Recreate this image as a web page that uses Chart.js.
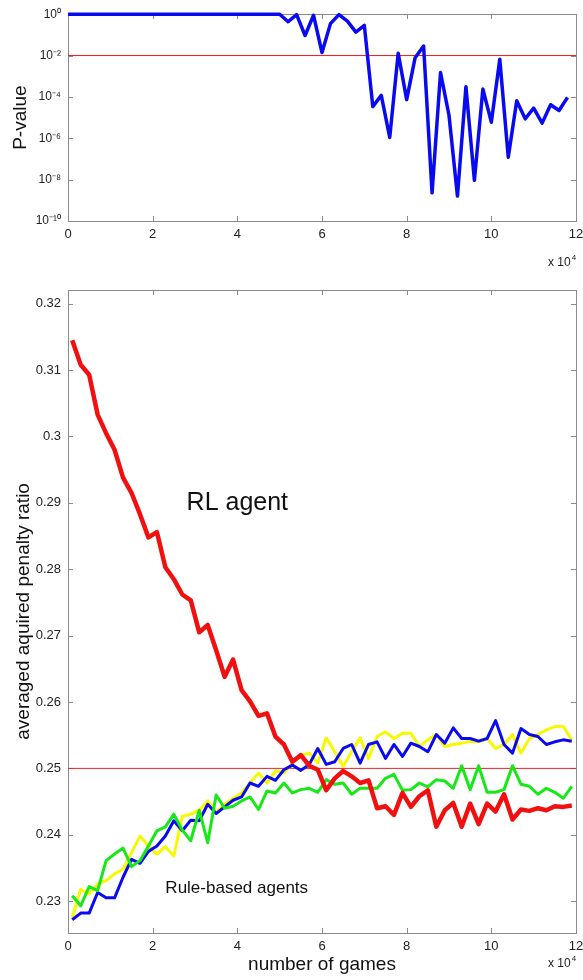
<!DOCTYPE html>
<html><head><meta charset="utf-8">
<script src="https://cdn.jsdelivr.net/npm/chart.js@4.4.0/dist/chart.umd.min.js"></script>
<style>
html,body{margin:0;padding:0;background:#fff;}
#wrap{position:relative;width:583px;height:980px;overflow:hidden;background:#fff;}
canvas{position:absolute;left:0;}
</style></head><body>
<div id="wrap">
<canvas id="topChart" width="583" height="275" style="top:0px"></canvas>
<canvas id="bottomChart" width="583" height="705" style="top:275px"></canvas>
</div>
<script>
// ---------- DATA ----------
// top panel: number of games (x 10^4) and P-values
const pGames = [0,0.2,0.4,0.6,0.8,1.0,1.2,1.4,1.6,1.8,2.0,2.2,2.4,2.6,2.8,3.0,3.2,3.4,3.6,3.8,4.0,4.2,4.4,4.6,4.8,5.0,5.2,5.4,5.6,5.8,6.0,6.2,6.4,6.6,6.8,7.0,7.2,7.4,7.6,7.8,8.0,8.2,8.4,8.6,8.8,9.0,9.2,9.4,9.6,9.8,10.0,10.2,10.4,10.6,10.8,11.0,11.2,11.4,11.6,11.8];
const pValues = [1,1,1,1,1,1,1,1,1,1,1,1,1,1,1,1,1,1,1,1,1,1,1,1,1,1,
  0.43,0.95,0.093,0.89,0.014,0.35,0.95,0.46,0.135,0.29,
  3.4e-5,1.2e-4,1.1e-6,0.013,7.4e-5,0.0079,0.029,2.3e-9,0.0015,1.3e-5,
  1.6e-9,3.1e-4,9.3e-9,2.4e-4,6.0e-6,0.0066,1.2e-7,6.6e-5,8.7e-6,2.9e-5,
  5.4e-6,4.2e-5,2.2e-5,9.5e-5];
const pThreshold = 0.01;

// bottom panel: number of games (x 10^4) and averaged acquired penalty ratio
const ratioGames = [0.1,0.3,0.5,0.7,0.9,1.1,1.3,1.5,1.7,1.9,2.1,2.3,2.5,2.7,2.9,3.1,3.3,3.5,3.7,3.9,4.1,4.3,4.5,4.7,4.9,5.1,5.3,5.5,5.7,5.9,6.1,6.3,6.5,6.7,6.9,7.1,7.3,7.5,7.7,7.9,8.1,8.3,8.5,8.7,8.9,9.1,9.3,9.5,9.7,9.9,10.1,10.3,10.5,10.7,10.9,11.1,11.3,11.5,11.7,11.9];
const rlAgent = [0.3145,0.3108,0.3093,0.3033,0.3005,0.2980,0.2938,0.2915,0.2883,0.2848,
  0.2856,0.2803,0.2785,0.2762,0.2753,0.2705,0.2716,0.2678,0.2638,0.2664,
  0.2618,0.2601,0.2579,0.2583,0.2548,0.2536,0.2510,0.2520,0.2504,0.2498,
  0.2467,0.2485,0.2496,0.2488,0.2478,0.2482,0.2440,0.2443,0.2430,0.2463,
  0.2442,0.2458,0.2467,0.2412,0.2437,0.2448,0.2412,0.2447,0.2416,0.2447,
  0.2435,0.2461,0.2423,0.2438,0.2436,0.2440,0.2437,0.2443,0.2442,0.2444];
const ruleBlue = [0.2272,0.2282,0.2282,0.2313,0.2305,0.2305,0.2336,0.2363,0.2357,0.2375,
  0.2383,0.2398,0.2421,0.2406,0.2422,0.2421,0.2446,0.2432,0.2442,0.2452,
  0.2457,0.2478,0.2473,0.2488,0.2482,0.2498,0.2505,0.2497,0.2506,0.2530,
  0.2506,0.2510,0.2530,0.2536,0.2508,0.2536,0.2540,0.2515,0.2536,0.2518,
  0.2538,0.2533,0.2525,0.2551,0.2538,0.2561,0.2545,0.2545,0.2541,0.2545,
  0.2572,0.2536,0.2523,0.2560,0.2551,0.2548,0.2536,0.2540,0.2543,0.2541];
const ruleYellow = [0.2275,0.2318,0.2311,0.2326,0.2331,0.2341,0.2348,0.2373,0.2398,0.2383,
  0.2371,0.2382,0.2368,0.2428,0.2431,0.2437,0.2451,0.2434,0.2446,0.2455,
  0.2463,0.2478,0.2493,0.2478,0.2496,0.2493,0.2508,0.2520,0.2523,0.2508,
  0.2546,0.2525,0.2503,0.2525,0.2546,0.2515,0.2548,0.2555,0.2545,0.2553,
  0.2553,0.2533,0.2543,0.2551,0.2533,0.2536,0.2538,0.2541,0.2540,0.2545,
  0.2530,0.2536,0.2551,0.2523,0.2545,0.2551,0.2558,0.2563,0.2563,0.2543];
const ruleGreen = [0.2308,0.2293,0.2322,0.2316,0.2361,0.2371,0.2380,0.2352,0.2361,0.2383,
  0.2406,0.2412,0.2431,0.2407,0.2391,0.2437,0.2388,0.2460,0.2440,0.2443,
  0.2451,0.2457,0.2438,0.2466,0.2463,0.2478,0.2463,0.2468,0.2470,0.2464,
  0.2483,0.2476,0.2478,0.2461,0.2470,0.2470,0.2470,0.2485,0.2491,0.2467,
  0.2468,0.2478,0.2472,0.2483,0.2481,0.2470,0.2504,0.2468,0.2504,0.2464,
  0.2464,0.2468,0.2504,0.2476,0.2473,0.2461,0.2470,0.2464,0.2455,0.2473];
const ratioThreshold = 0.25;

// tick labels
const xTickVals = [0,2,4,6,8,10,12];
const pTickExps = [0,-2,-4,-6,-8,-10];
const ratioTickVals = [0.23,0.24,0.25,0.26,0.27,0.28,0.29,0.30,0.31,0.32];
const xRange = [0,12];

// ---------- helpers ----------
const FONT = "'Liberation Sans', Arial, Helvetica, sans-serif";
const SUP = {'0':'⁰','1':'¹','2':'²','3':'³','4':'⁴','5':'⁵','6':'⁶','7':'⁷','8':'⁸','9':'⁹','-':'⁻'};
const sup = s => String(s).split('').map(c => SUP[c] || c).join('');
const pts = (xs, ys) => xs.map((x, i) => ({x: x, y: ys[i]}));

const boxPlugin = {
  id: 'matlabBox',
  beforeDatasetsDraw(chart) {
    const {ctx, chartArea: a} = chart;
    const xs = chart.scales.x, ys = chart.scales.y;
    ctx.save();
    ctx.strokeStyle = '#8a8a8a';
    ctx.lineWidth = 1;
    const l = Math.round(a.left), t = Math.round(a.top), r = Math.round(a.right), b = Math.round(a.bottom);
    ctx.strokeRect(l + 0.5, t + 0.5, r - l, b - t);
    const L = 5;
    ctx.beginPath();
    xs.ticks.forEach(tk => {
      const p = Math.round(xs.getPixelForValue(tk.value)) + 0.5;
      if (p <= l + 1 || p >= r - 1) return;
      ctx.moveTo(p, b); ctx.lineTo(p, b - L);
      ctx.moveTo(p, t); ctx.lineTo(p, t + L);
    });
    ys.ticks.forEach(tk => {
      const p = Math.round(ys.getPixelForValue(tk.value)) + 0.5;
      if (p <= t + 1 || p >= b - 1) return;
      ctx.moveTo(l, p); ctx.lineTo(l + L, p);
      ctx.moveTo(r, p); ctx.lineTo(r - L, p);
    });
    ctx.stroke();
    ctx.restore();
  }
};

function drawX104(ctx, x, y) {
  ctx.save();
  ctx.fillStyle = '#222';
  ctx.textAlign = 'left';
  ctx.textBaseline = 'alphabetic';
  ctx.font = '12px ' + FONT;
  ctx.fillText('x 10', x, y);
  const w = ctx.measureText('x 10').width;
  ctx.font = '8px ' + FONT;
  ctx.fillText('4', x + w + 1, y - 6);
  ctx.restore();
}

function commonX(heightPx) {
  return {
    type: 'linear', min: xRange[0], max: xRange[1],
    afterBuildTicks: s => { s.ticks = xTickVals.map(v => ({value: v})); },
    afterFit: s => { s.height = heightPx; s.paddingLeft = 0; s.paddingRight = 0; },
    grid: {display: false, drawTicks: false},
    border: {display: false},
    ticks: {font: {family: FONT, size: 13}, color: '#222', padding: 6, maxRotation: 0, autoSkip: false}
  };
}

// ---------- TOP CHART ----------
const topText = {
  id: 'topText',
  afterDraw(chart) {
    const ctx = chart.ctx, a = chart.chartArea;
    ctx.save();
    ctx.fillStyle = '#111';
    ctx.font = '19px ' + FONT;
    ctx.translate(21, (a.top + a.bottom) / 2);
    ctx.rotate(-Math.PI / 2);
    ctx.textAlign = 'center';
    ctx.textBaseline = 'middle';
    ctx.fillText('P-value', 0, 0);
    ctx.restore();
    drawX104(ctx, 548, 266);
  }
};

new Chart(document.getElementById('topChart'), {
  type: 'line',
  data: {
    datasets: [
      {data: pts(pGames, pValues), borderColor: '#0a0af0', borderWidth: 3.5, pointRadius: 0, tension: 0, fill: false, clip: false, borderJoinStyle: 'round', order: 1},
      {data: pts(xRange, [pThreshold, pThreshold]), borderColor: '#f01818', borderWidth: 1, pointRadius: 0, fill: false, order: 2}
    ]
  },
  options: {
    responsive: false, animation: false, devicePixelRatio: 1,
    layout: {padding: {top: 13, right: 7, left: 0, bottom: 0}},
    plugins: {legend: {display: false}, tooltip: {enabled: false}},
    scales: {
      x: commonX(54),
      y: {
        type: 'logarithmic', min: 1e-10, max: 1,
        afterBuildTicks: s => { s.ticks = pTickExps.map(e => ({value: Math.pow(10, e)})); },
        afterFit: s => { s.width = 68; },
        grid: {display: false, drawTicks: false},
        border: {display: false},
        ticks: {font: {family: FONT, size: 12}, color: '#222', padding: 7,
          callback: v => '10' + sup(Math.round(Math.log10(v)))}
      }
    }
  },
  plugins: [boxPlugin, topText]
});

// ---------- BOTTOM CHART ----------
const bottomText = {
  id: 'bottomText',
  afterDraw(chart) {
    const ctx = chart.ctx, a = chart.chartArea;
    const xs = chart.scales.x, ys = chart.scales.y;
    ctx.save();
    ctx.fillStyle = '#111';
    ctx.font = '19px ' + FONT;
    ctx.save();
    ctx.translate(24, (a.top + a.bottom) / 2);
    ctx.rotate(-Math.PI / 2);
    ctx.textAlign = 'center';
    ctx.textBaseline = 'middle';
    ctx.fillText('averaged aquired penalty ratio', 0, 0);
    ctx.restore();
    ctx.textAlign = 'center';
    ctx.textBaseline = 'alphabetic';
    ctx.fillText('number of games', (a.left + a.right) / 2, 695);
    // annotations
    ctx.font = '25px ' + FONT;
    ctx.textBaseline = 'middle';
    ctx.fillText('RL agent', xs.getPixelForValue(4.0), ys.getPixelForValue(0.2900));
    ctx.font = '17px ' + FONT;
    ctx.textAlign = 'left';
    ctx.fillText('Rule-based agents', xs.getPixelForValue(2.3), ys.getPixelForValue(0.2319));
    ctx.restore();
    drawX104(ctx, 548, 692);
  }
};

const lineStyle = (color, w, order) => ({borderColor: color, borderWidth: w, pointRadius: 0, tension: 0, fill: false, clip: false, borderJoinStyle: 'round', order: order});

new Chart(document.getElementById('bottomChart'), {
  type: 'line',
  data: {
    datasets: [
      Object.assign({data: pts(ratioGames, rlAgent)}, lineStyle('#f01010', 4.5, 0)),
      Object.assign({data: pts(ratioGames, ruleGreen)}, lineStyle('#18e818', 3, 1)),
      Object.assign({data: pts(ratioGames, ruleBlue)}, lineStyle('#0a0af0', 3, 2)),
      Object.assign({data: pts(ratioGames, ruleYellow)}, lineStyle('#f8f800', 3, 3)),
      Object.assign({data: pts(xRange, [ratioThreshold, ratioThreshold])}, lineStyle('#f02020', 1, 4))
    ]
  },
  options: {
    responsive: false, animation: false, devicePixelRatio: 1,
    layout: {padding: {top: 10, right: 7, left: 0, bottom: 0}},
    plugins: {legend: {display: false}, tooltip: {enabled: false}},
    scales: {
      x: commonX(47),
      y: {
        type: 'linear', min: 0.2252, max: 0.3221,
        afterBuildTicks: s => { s.ticks = ratioTickVals.map(v => ({value: v})); },
        afterFit: s => { s.width = 68; },
        grid: {display: false, drawTicks: false},
        border: {display: false},
        ticks: {font: {family: FONT, size: 13}, color: '#222', padding: 7,
          callback: v => String(parseFloat(v.toFixed(2)))}
      }
    }
  },
  plugins: [boxPlugin, bottomText]
});
</script>
</body></html>
